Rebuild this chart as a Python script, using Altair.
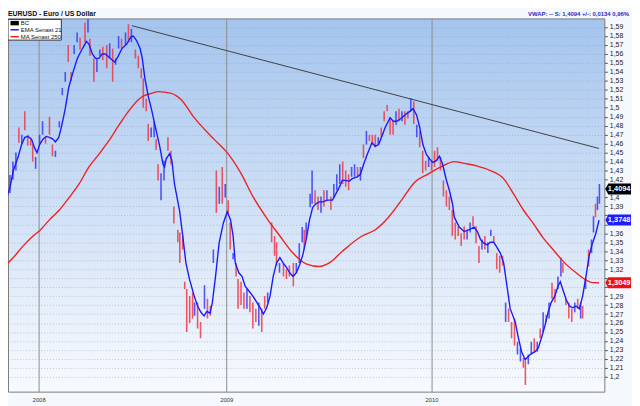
import altair as alt
import pandas as pd

# ---------------- data ----------------
ema_week = [0.25, 0.9, 1.75, 2.6, 3.8, 4.7, 5.5, 6.3, 7.2, 8, 8.6, 9.25, 10.1, 10.9, 11.75, 12.6, 13.25, 14.1,
            14.9, 15.75, 16.6, 17.6, 18.8, 20.1, 21.1, 21.75, 22.6, 23.4, 24.25, 25.1, 25.9, 27.2, 28.25, 29.1,
            30.1, 31.3, 32.4, 33, 33.8, 34.7, 35.25, 35.9, 36.75, 37.6, 38.8, 39.7, 40.5, 40.9, 41.3, 42.2,
            42.75, 43.4, 44.7, 45.5, 46.3, 47.2, 48.4, 49.25, 50.1, 50.9, 51.6, 52.4, 53, 53.8, 54.7, 55.75,
            56.75, 57.6, 58.25, 58.8, 59.7, 60.5, 61.3, 62.2, 63.25, 64.25, 65.1, 65.9, 66.75, 67.6, 68.4,
            69.25, 70.1, 70.9, 71.75, 72.6, 73.4, 74.25, 75.1, 75.9, 76.75, 77.6, 78.4, 79.25, 80.1, 80.9,
            82.2, 83.4, 84.25, 85.1, 85.9, 86.75, 87.6, 88.4, 89.7, 90.5, 91.3, 92.2, 93.4, 94.25, 95.1,
            95.9, 96.75, 98, 98.8, 99.7, 100.75, 101.75, 103, 103.8, 104.7, 105.5, 106.3, 107.2, 108, 108.8,
            109.7, 110.5, 111.3, 112.2, 113, 113.8, 114.25, 115.5, 116.75, 118, 119.25, 120.1, 120.9, 121.75,
            122.6, 123.4, 124.25, 125.1, 125.9, 126.75, 127.6, 128.4, 129.7, 130.5, 131.3, 132.2, 133, 133.8,
            134.7, 135.5, 136.3, 137.2, 138, 138.8, 139.7, 140.5, 141.1, 141.75, 142.6, 143.4, 144.25, 145.1,
            145.9, 146.75, 147.6, 148.4, 149.25, 150.1, 150.9]
ema_value = [1.39, 1.40, 1.411, 1.43, 1.445, 1.459, 1.467, 1.468, 1.465, 1.455, 1.45, 1.459, 1.465, 1.468,
             1.467, 1.465, 1.462, 1.467, 1.481, 1.499, 1.522, 1.538, 1.555, 1.566, 1.574, 1.571, 1.56, 1.555,
             1.555, 1.56, 1.56, 1.555, 1.551, 1.557, 1.566, 1.571, 1.579, 1.58, 1.575, 1.566, 1.555, 1.533,
             1.513, 1.498, 1.474, 1.456, 1.437, 1.434, 1.443, 1.449, 1.441, 1.415, 1.385, 1.357, 1.327, 1.309,
             1.29, 1.279, 1.272, 1.268, 1.273, 1.271, 1.283, 1.312, 1.349, 1.371, 1.384, 1.375, 1.357, 1.327,
             1.316, 1.312, 1.301, 1.296, 1.29, 1.283, 1.277, 1.27, 1.277, 1.29, 1.312, 1.327, 1.333, 1.327,
             1.322, 1.316, 1.312, 1.316, 1.325, 1.336, 1.353, 1.375, 1.389, 1.393, 1.395, 1.395, 1.397, 1.397,
             1.404, 1.411, 1.419, 1.419, 1.418, 1.421, 1.423, 1.426, 1.437, 1.448, 1.461, 1.457, 1.459, 1.468,
             1.478, 1.489, 1.485, 1.485, 1.488, 1.492, 1.496, 1.499, 1.492, 1.478, 1.459, 1.448, 1.443, 1.439,
             1.441, 1.446, 1.437, 1.42, 1.408, 1.393, 1.378, 1.367, 1.362, 1.364, 1.367, 1.362, 1.353, 1.349,
             1.347, 1.35, 1.35, 1.344, 1.338, 1.327, 1.301, 1.276, 1.261, 1.243, 1.228, 1.219, 1.223, 1.226,
             1.228, 1.232, 1.243, 1.257, 1.272, 1.283, 1.29, 1.301, 1.306, 1.297, 1.286, 1.279, 1.277, 1.279,
             1.276, 1.29, 1.312, 1.335, 1.349, 1.36, 1.3748]

ma_week = [0.1, 2.6, 5.1, 7.6, 9.25, 11.75, 14.25, 16.75, 19.25, 21.75, 24.25, 26.75, 29.25, 31.75, 34.25,
           35.5, 37.6, 39.25, 42.6, 45.1, 48.4, 53.4, 56.75, 60.1, 63.4, 66.75, 70.1, 73.4, 76.75, 80.1,
           82.6, 85.9, 90.9, 94.25, 97.6, 100.9, 104.25, 107.6, 110.9, 114.25, 116.75, 120.1, 123.4, 126.75,
           129.25, 131.75, 134.25, 136.75, 139.25, 141.75, 145.1, 147.6, 149.25, 150.9]
ma_value = [1.322, 1.333, 1.346, 1.357, 1.363, 1.375, 1.386, 1.40, 1.415, 1.434, 1.448, 1.463, 1.48, 1.496,
            1.509, 1.513, 1.516, 1.518, 1.516, 1.509, 1.489, 1.465, 1.45, 1.428, 1.40, 1.377, 1.357, 1.338,
            1.326, 1.323, 1.327, 1.34, 1.357, 1.364, 1.378, 1.397, 1.417, 1.426, 1.434, 1.44, 1.438, 1.435,
            1.43, 1.421, 1.404, 1.386, 1.371, 1.355, 1.342, 1.329, 1.316, 1.308, 1.305, 1.3049]

bar_week = [0.5, 1, 1.75, 2.5, 3.25, 4, 4.75, 5.5, 6.25, 7, 7.5, 8.25, 9.25, 10, 10.75, 11.75, 12.5, 13.25,
            14.25, 15, 15.75, 16.5, 17.25, 18, 18.75, 19.5, 20.75, 21.5, 22, 23, 23.75, 24.5, 25.25, 26.25,
            27, 27.75, 28.5, 29.25, 30, 31, 31.75, 32.5, 33.5, 34.25, 35, 35.5, 36.25, 36.75, 37.5, 38.25,
            38.75, 39.25, 40, 40.75, 41.75, 42.5, 43.25, 44.25, 44.75, 45.5, 46, 46.5, 47.25, 48, 48.5, 49.25,
            50, 51, 51.75, 52.5, 53.25, 54, 54.75, 55.5, 56.25, 57, 57.5, 58.25, 59, 59.5, 60.25, 61, 61.75,
            62.5, 63.25, 64, 64.75, 65.5, 66.25, 67, 68, 68.75, 69.25, 70, 71, 71.75, 72.5, 73.5, 74.25, 75,
            75.75, 76.25, 76.75, 77.75, 78.25, 79, 79.75, 80.5, 81.25, 82, 83, 83.75, 84.5, 85.25, 86, 86.75,
            87.5, 88.25, 89, 89.75, 90.5, 91.25, 92, 92.75, 93.5, 94.25, 95, 95.75, 96.5, 97.25, 98, 98.75,
            99.5, 100.25, 101, 101.75, 102.5, 103.25, 104, 104.75, 105.5, 106.25, 107, 107.75, 108.5, 109.25,
            110, 110.75, 111.5, 112.25, 113, 113.75, 114.5, 115.25, 116, 116.75, 117.5, 118.25, 119, 119.75,
            120.5, 121.25, 122, 122.75, 123.5, 124.25, 125, 125.75, 126.5, 127.25, 128, 128.75, 129.5, 130.25,
            131, 131.75, 132.25, 133, 133.75, 134.5, 135.25, 136, 136.75, 137.5, 138.25, 139, 139.75, 140.5,
            141.25, 141.75, 142.5, 143.25, 144, 144.75, 145.5, 146.25, 146.75, 147.5, 148.25, 149, 149.5,
            150, 150.5, 151]
bar_high = [1.428, 1.418, 1.425, 1.44, 1.45, 1.478, 1.47, 1.496, 1.47, 1.465, 1.459, 1.445, 1.47, 1.485,
            1.468, 1.49, 1.459, 1.452, 1.485, 1.522, 1.54, 1.57, 1.54, 1.57, 1.584, 1.578, 1.595, 1.599,
            1.577, 1.555, 1.555, 1.565, 1.568, 1.57, 1.572, 1.566, 1.555, 1.58, 1.577, 1.584, 1.593, 1.588,
            1.565, 1.558, 1.544, 1.533, 1.51, 1.482, 1.478, 1.485, 1.465, 1.437, 1.427, 1.441, 1.467, 1.452,
            1.39, 1.364, 1.361, 1.357, 1.306, 1.298, 1.29, 1.294, 1.283, 1.283, 1.261, 1.302, 1.287, 1.279,
            1.342, 1.43, 1.412, 1.434, 1.415, 1.397, 1.372, 1.338, 1.327, 1.309, 1.306, 1.294, 1.298, 1.29,
            1.283, 1.276, 1.283, 1.276, 1.29, 1.294, 1.372, 1.357, 1.35, 1.327, 1.327, 1.32, 1.324, 1.327,
            1.327, 1.349, 1.367, 1.364, 1.372, 1.404, 1.43, 1.408, 1.401, 1.401, 1.408, 1.408, 1.401, 1.415,
            1.426, 1.437, 1.44, 1.43, 1.426, 1.434, 1.437, 1.434, 1.434, 1.459, 1.474, 1.47, 1.47, 1.47,
            1.467, 1.478, 1.496, 1.503, 1.489, 1.485, 1.496, 1.499, 1.496, 1.496, 1.496, 1.511, 1.507, 1.481,
            1.474, 1.452, 1.441, 1.445, 1.441, 1.452, 1.456, 1.445, 1.419, 1.408, 1.401, 1.386, 1.372, 1.368,
            1.36, 1.368, 1.364, 1.372, 1.379, 1.368, 1.346, 1.353, 1.357, 1.35, 1.364, 1.357, 1.338, 1.335,
            1.335, 1.283, 1.276, 1.261, 1.265, 1.239, 1.232, 1.221, 1.218, 1.225, 1.239, 1.243, 1.239, 1.254,
            1.272, 1.269, 1.283, 1.305, 1.298, 1.312, 1.333, 1.327, 1.287, 1.283, 1.276, 1.283, 1.287, 1.283,
            1.279, 1.309, 1.342, 1.353, 1.379, 1.393, 1.401, 1.415]
bar_low = [1.408, 1.398, 1.405, 1.42, 1.43, 1.461, 1.46, 1.475, 1.458, 1.458, 1.44, 1.432, 1.46, 1.47, 1.46,
           1.47, 1.446, 1.445, 1.478, 1.514, 1.529, 1.551, 1.53, 1.56, 1.573, 1.565, 1.573, 1.584, 1.558,
           1.529, 1.54, 1.558, 1.553, 1.544, 1.555, 1.529, 1.548, 1.566, 1.566, 1.57, 1.573, 1.573, 1.555,
           1.544, 1.533, 1.50, 1.496, 1.463, 1.467, 1.467, 1.453, 1.419, 1.397, 1.419, 1.452, 1.437, 1.371,
           1.35, 1.327, 1.342, 1.298, 1.25, 1.26, 1.265, 1.268, 1.254, 1.243, 1.276, 1.265, 1.268, 1.327,
           1.383, 1.393, 1.393, 1.40, 1.382, 1.342, 1.331, 1.312, 1.276, 1.28, 1.276, 1.276, 1.272, 1.254,
           1.261, 1.257, 1.25, 1.276, 1.283, 1.35, 1.335, 1.324, 1.316, 1.312, 1.309, 1.312, 1.301, 1.316,
           1.327, 1.35, 1.342, 1.353, 1.389, 1.393, 1.393, 1.386, 1.383, 1.39, 1.397, 1.386, 1.40, 1.408,
           1.415, 1.415, 1.412, 1.408, 1.423, 1.423, 1.423, 1.419, 1.444, 1.459, 1.463, 1.459, 1.456, 1.459,
           1.467, 1.485, 1.496, 1.47, 1.47, 1.481, 1.485, 1.485, 1.481, 1.488, 1.496, 1.482, 1.467, 1.456,
           1.427, 1.43, 1.434, 1.43, 1.434, 1.441, 1.43, 1.401, 1.39, 1.386, 1.357, 1.353, 1.357, 1.346,
           1.353, 1.353, 1.361, 1.368, 1.349, 1.327, 1.342, 1.342, 1.338, 1.357, 1.35, 1.32, 1.316, 1.324,
           1.261, 1.261, 1.243, 1.235, 1.225, 1.217, 1.21, 1.191, 1.214, 1.225, 1.228, 1.228, 1.243, 1.25,
           1.261, 1.265, 1.287, 1.283, 1.298, 1.312, 1.316, 1.28, 1.265, 1.261, 1.272, 1.276, 1.265, 1.265,
           1.298, 1.323, 1.338, 1.361, 1.378, 1.386, 1.393]
bar_dir = ["u", "d", "u", "u", "u", "d", "u", "d", "d", "d", "d", "u", "u", "u", "d", "d", "d", "u", "u", "u",
           "u", "d", "d", "u", "u", "d", "d", "u", "d", "d", "u", "u", "d", "d", "u", "d", "u", "u", "d", "u",
           "d", "u", "d", "d", "d", "d", "d", "d", "u", "u", "d", "d", "u", "u", "d", "d", "d", "d", "d", "d",
           "d", "d", "d", "d", "u", "d", "d", "u", "d", "d", "u", "d", "u", "d", "u", "d", "d", "u", "d", "d",
           "d", "d", "u", "d", "d", "d", "u", "d", "d", "u", "d", "d", "d", "u", "d", "d", "d", "d", "u", "u",
           "u", "d", "u", "u", "u", "d", "d", "u", "d", "u", "d", "u", "u", "u", "d", "d", "d", "u", "u", "d",
           "u", "d", "u", "d", "d", "d", "u", "d", "d", "d", "d", "d", "u", "d", "u", "d", "d", "u", "d", "u",
           "d", "d", "d", "u", "d", "d", "d", "d", "d", "d", "d", "d", "d", "d", "d", "d", "u", "u", "d", "d",
           "d", "u", "d", "u", "u", "d", "d", "d", "d", "u", "d", "d", "d", "u", "u", "d", "d", "u", "u", "d",
           "u", "d", "u", "d", "u", "d", "d", "u", "u", "d", "d", "d", "d", "u", "d", "u", "d", "u", "d", "u",
           "u", "d", "u", "u"]

trend_week = [32.6, 150.9]
trend_value = [1.5915, 1.4546]

year_ticks = [9, 56.5, 108.5]
year_labels = ["2008", "2009", "2010"]
y_ticks = [round(1.20 + 0.01 * i, 2) for i in range(40)]

flag_values = [1.4094, 1.3748, 1.3049]
flag_labels = ["1,4094", "1,3748", "1,3049"]
flag_colors = ["#000000", "#1c1cff", "#ee1111"]

legend_labels = ["BC", "EMA  Senast 21", "MA  Senast 250"]
title_text = "EURUSD - Euro / US Dollar"
vwap_text = "VWAP: --  S: 1,4094  +/-: 0,0134  0,96%"

# ---------------- styling ----------------
FONT = "Liberation Sans"
BLUE = "#1a1aff"
RED = "#ee2222"
W, H = 604, 378

bars_df = pd.DataFrame({"week": bar_week, "high": bar_high, "low": bar_low, "dir": bar_dir})
ema_df = pd.DataFrame({"week": ema_week, "value": ema_value})
ma_df = pd.DataFrame({"week": ma_week, "value": ma_value})
trend_df = pd.DataFrame({"week": trend_week, "value": trend_value})
flags_df = pd.DataFrame({"value": flag_values, "label": flag_labels, "color": flag_colors})
one = pd.DataFrame({"k": [0]})

xs = alt.Scale(domain=[1.25, 152.25], nice=False, zero=False)
ys = alt.Scale(domain=[1.1835, 1.5996], nice=False, zero=False)

label_expr = "''"
for v, l in reversed(list(zip(year_ticks, year_labels))):
    label_expr = f"datum.value == {v} ? '{l}' : {label_expr}"

# axis labels hidden where a value flag covers them (as in the reference)
hide = " || ".join(f"abs(datum.value - {v}) < 0.0055" for v in flag_values)
y_label_expr = f"({hide}) ? '' : replace(format(datum.value, '.2~f'), '.', ',')"

x_axis = alt.Axis(values=year_ticks, labelExpr=label_expr, grid=True, gridColor="#8c8c8c",
                  gridWidth=1, ticks=False, domain=False, labelFontSize=6, labelFont=FONT,
                  labelColor="#333333", labelPadding=5, title=None)
y_axis = alt.Axis(orient="right", values=y_ticks, labelExpr=y_label_expr,
                  grid=True, gridColor="#8a96a6", gridOpacity=0.5, gridDash=[1, 2],
                  tickSize=3, tickColor="#555555", domain=False, labelFontSize=7, labelFont=FONT,
                  labelColor="#222222", labelPadding=2, labelOverlap=False, title=None)

X = alt.X("week:Q", scale=xs, axis=x_axis)

bars = alt.Chart(bars_df).mark_rule(strokeWidth=1.6, opacity=0.85, clip=True).encode(
    x=X,
    y=alt.Y("low:Q", scale=ys, axis=y_axis),
    y2="high:Q",
    color=alt.Color("dir:N", scale=alt.Scale(domain=["u", "d"], range=["#3a3af5", "#f03a4a"]), legend=None),
)

ma_line = alt.Chart(ma_df).mark_line(color=RED, strokeWidth=1.4, clip=True, interpolate="monotone").encode(
    x=X, y=alt.Y("value:Q", scale=ys, axis=y_axis))
ema_line = alt.Chart(ema_df).mark_line(color=BLUE, strokeWidth=1.4, clip=True).encode(
    x=X, y=alt.Y("value:Q", scale=ys, axis=y_axis))
trend = alt.Chart(trend_df).mark_line(color="#404040", strokeWidth=1, clip=True).encode(
    x=X, y=alt.Y("value:Q", scale=ys, axis=y_axis))

flag_path = "M -1.2 0 L -0.9 -0.55 L 1.4 -0.55 L 1.4 0.55 L -0.9 0.55 Z"
flags = alt.Chart(flags_df).mark_point(shape=flag_path, size=400, filled=True, opacity=1).encode(
    x=alt.value(W + 13), y=alt.Y("value:Q", scale=ys, axis=y_axis),
    color=alt.Color("color:N", scale=None))
flag_text = alt.Chart(flags_df).mark_text(color="white", fontSize=7.5, fontWeight="bold", font=FONT,
                                          align="center", baseline="middle").encode(
    x=alt.value(W + 15), y=alt.Y("value:Q", scale=ys, axis=y_axis), text="label:N")

title = alt.Chart(one).mark_text(text=title_text, fontSize=7, fontWeight="bold", font=FONT,
                                 align="left", baseline="middle", color="#111111").encode(
    x=alt.value(0), y=alt.value(-4))
vwap = alt.Chart(one).mark_text(text=vwap_text, fontSize=6, fontWeight="bold", font=FONT,
                                align="right", baseline="middle", color="#2a2ac8").encode(
    x=alt.value(W + 25), y=alt.value(-4))

# legend box
leg_box = alt.Chart(one).mark_rect(fill="white", stroke="#333333", strokeWidth=1).encode(
    x=alt.value(0), x2=alt.value(54), y=alt.value(1), y2=alt.value(22))
leg_bc = alt.Chart(one).mark_rect(fill="black").encode(
    x=alt.value(2.5), x2=alt.value(11), y=alt.value(2.5), y2=alt.value(7))
leg_ema = alt.Chart(one).mark_rule(color=BLUE, strokeWidth=1.5).encode(
    x=alt.value(2.5), x2=alt.value(11), y=alt.value(11.5))
leg_ma = alt.Chart(one).mark_rule(color=RED, strokeWidth=1.5).encode(
    x=alt.value(2.5), x2=alt.value(11), y=alt.value(18.5))
leg_texts = []
for i, lab in enumerate(legend_labels):
    leg_texts.append(alt.Chart(one).mark_text(text=lab, fontSize=6, font=FONT, align="left",
                                              baseline="middle", color="#111111").encode(
        x=alt.value(13), y=alt.value(4.5 + 7 * i)))

grad = ("{gradient: 'linear', x1: 0, y1: 0, x2: 0, y2: 1, stops: ["
        "{offset: 0, color: '#a4c4ee'}, {offset: 0.35, color: '#c2d8f4'}, "
        "{offset: 0.7, color: '#e1ebf9'}, {offset: 1, color: '#f7faff'}]}")

chart = alt.layer(
    bars, ma_line, ema_line, trend, flags, flag_text, title, vwap,
    leg_box, leg_bc, leg_ema, leg_ma, *leg_texts
).properties(
    width=W, height=H, autosize="none",
    padding={"left": 0, "top": 8, "right": 28, "bottom": 12},
    background="#f5f8fc",
).configure_view(
    fill=alt.ExprRef(expr=grad), stroke="#7a7a7a", strokeWidth=1
)

chart.save("out.html", embed_options={"renderer": "svg", "actions": False})
